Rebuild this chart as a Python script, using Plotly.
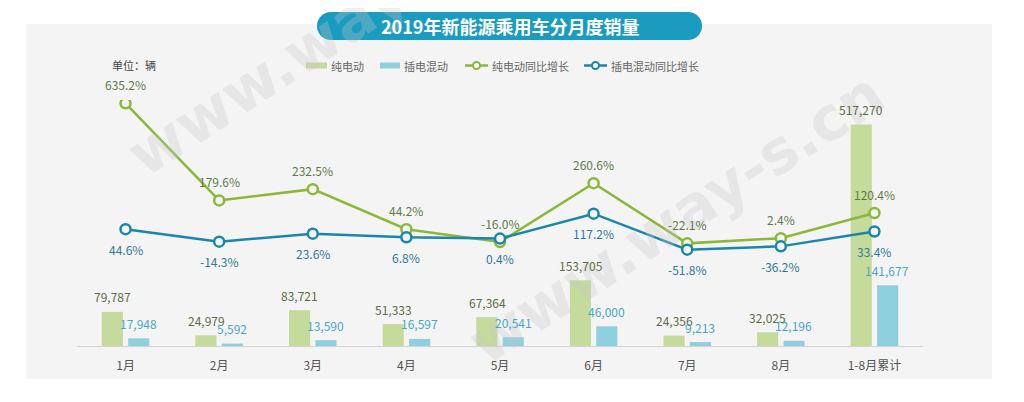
import plotly.graph_objects as go

categories = ['1月', '2月', '3月', '4月', '5月', '6月', '7月', '8月', '1-8月累计']
bev_sales = [79787, 24979, 83721, 51333, 67364, 153705, 24356, 32025, 517270]
phev_sales = [17948, 5592, 13590, 16597, 20541, 46000, 9213, 12196, 141677]
bev_yoy = [635.2, 179.6, 232.5, 44.2, -16.0, 260.6, -22.1, 2.4, 120.4]
phev_yoy = [44.6, -14.3, 23.6, 6.8, 0.4, 117.2, -51.8, -36.2, 33.4]

series_names = ['纯电动', '插电混动', '纯电动同比增长', '插电混动同比增长']
title_text = '2019年新能源乘用车分月度销量'
unit_text = '单位：辆'

# page has an 8px body margin; work in page pixels and convert
OFF = 8
W, H = 1024 - 2 * OFF, 402 - 2 * OFF
PLOT_L, PLOT_R, PLOT_T, PLOT_B = 77, 923, 100, 346   # page pixels
ML = PLOT_L - OFF
MT = PLOT_T - OFF
MR = W - (PLOT_R - OFF)
MB = H - (PLOT_B - OFF)
PW, PH = PLOT_R - PLOT_L, PLOT_B - PLOT_T

FONT = 'Noto Sans CJK SC'
GREEN_BAR = '#c4db9c'
BLUE_BAR = '#8ed0dd'
GREEN_LINE = '#8cb83a'
BLUE_LINE = '#1a86ae'
PANEL = '#f4f4f4'


def px(x):
    return (x - PLOT_L) / PW


def py(y):
    return (PLOT_B - y) / PH


fig = go.Figure()
fig.add_trace(go.Bar(x=categories, y=bev_sales, name=series_names[0],
                     marker=dict(color=GREEN_BAR, line=dict(width=0))))
fig.add_trace(go.Bar(x=categories, y=phev_sales, name=series_names[1],
                     marker=dict(color=BLUE_BAR, line=dict(width=0))))
fig.add_trace(go.Scatter(x=categories, y=bev_yoy, name=series_names[2], yaxis='y2',
                         mode='lines+markers',
                         line=dict(color=GREEN_LINE, width=2.5),
                         marker=dict(symbol='circle', size=10, color=PANEL,
                                     line=dict(color=GREEN_LINE, width=2.5))))
fig.add_trace(go.Scatter(x=categories, y=phev_yoy, name=series_names[3], yaxis='y2',
                         mode='lines+markers',
                         line=dict(color=BLUE_LINE, width=2.5),
                         marker=dict(symbol='circle', size=10, color=PANEL,
                                     line=dict(color=BLUE_LINE, width=2.5))))

ann = []
# watermarks (drawn first so labels sit on top)
for cx, cy in [(335, 30), (676, 218)]:
    ann.append(dict(x=px(cx), y=py(cy), xref='paper', yref='paper', text='<b>www.way-s.cn</b>',
                    showarrow=False, textangle=-33, xanchor='center', yanchor='middle',
                    font=dict(family='DejaVu Sans', size=60, color='rgba(200,200,200,0.3)')))
# bar value labels
for c, v in zip(categories, bev_sales):
    ann.append(dict(x=c, y=v, xref='x', yref='y', text=f'{v:,}', showarrow=False,
                    xshift=-13, yshift=15, yanchor='middle',
                    font=dict(family=FONT, size=12, color='#5d6b48')))
for c, v in zip(categories, phev_sales):
    ann.append(dict(x=c, y=v, xref='x', yref='y', text=f'{v:,}', showarrow=False,
                    xshift=13, yshift=15, yanchor='middle',
                    font=dict(family=FONT, size=12, color='#47a8c6')))
# line value labels
for c, v in zip(categories, bev_yoy):
    ann.append(dict(x=c, y=v, xref='x', yref='y2', text=f'{v:.1f}%', showarrow=False,
                    yshift=19, yanchor='middle',
                    font=dict(family=FONT, size=12, color='#5f7a4a')))
for c, v in zip(categories, phev_yoy):
    ann.append(dict(x=c, y=v, xref='x', yref='y2', text=f'{v:.1f}%', showarrow=False,
                    yshift=-20, yanchor='middle',
                    font=dict(family=FONT, size=12, color='#2f7996')))

# title
ann.append(dict(x=px(509.5), y=py(26), xref='paper', yref='paper', text=f'<b>{title_text}</b>',
                showarrow=False, xanchor='center', yanchor='middle',
                font=dict(family=FONT, size=18, color='white')))
# unit
ann.append(dict(x=px(110), y=py(65), xref='paper', yref='paper', text=unit_text,
                showarrow=False, xanchor='left', yanchor='middle',
                font=dict(family=FONT, size=11, color='#444444')))

shapes = []
# panel background
shapes.append(dict(type='rect', xref='paper', yref='paper', layer='below',
                   x0=px(26), x1=px(992), y0=py(379), y1=py(24),
                   fillcolor=PANEL, line=dict(width=0)))
# title pill
PILL = '#1a9bc0'
shapes.append(dict(type='rect', xref='paper', yref='paper', layer='below',
                   x0=px(331), x1=px(688), y0=py(40), y1=py(12),
                   fillcolor=PILL, line=dict(width=0)))
for cx in (331, 688):
    shapes.append(dict(type='circle', xref='paper', yref='paper', layer='below',
                       x0=px(cx - 14), x1=px(cx + 14), y0=py(40), y1=py(12),
                       fillcolor=PILL, line=dict(width=0)))

# manual legend
legend_items = [
    ('bar', GREEN_BAR, 306, 327, series_names[0]),
    ('bar', BLUE_BAR, 380, 400, series_names[1]),
    ('line', GREEN_LINE, 465, 488, series_names[2]),
    ('line', BLUE_LINE, 584, 607, series_names[3]),
]
LY = 65.5
for kind, col, x0, x1, name in legend_items:
    if kind == 'bar':
        shapes.append(dict(type='rect', xref='paper', yref='paper',
                           x0=px(x0), x1=px(x1), y0=py(LY + 3), y1=py(LY - 3),
                           fillcolor=col, line=dict(width=0)))
    else:
        shapes.append(dict(type='line', xref='paper', yref='paper',
                           x0=px(x0), x1=px(x1), y0=py(LY), y1=py(LY),
                           line=dict(color=col, width=2.5)))
        cx = (x0 + x1) / 2
        shapes.append(dict(type='circle', xref='paper', yref='paper',
                           x0=px(cx - 3.5), x1=px(cx + 3.5), y0=py(LY + 3.5), y1=py(LY - 3.5),
                           fillcolor='white', line=dict(color=col, width=2)))
    ann.append(dict(x=px(x1 + 2), y=py(LY), xref='paper', yref='paper', text=name,
                    showarrow=False, xanchor='left', yanchor='middle',
                    font=dict(family=FONT, size=11, color='#666666')))

fig.update_layout(
    width=W, height=H,
    margin=dict(l=ML, r=MR, t=MT, b=MB, autoexpand=False),
    paper_bgcolor='white', plot_bgcolor='rgba(0,0,0,0)',
    barmode='group', bargap=0.436, bargroupgap=0.2,
    showlegend=False,
    font=dict(family=FONT),
    xaxis=dict(showline=True, linecolor='#d2d2d2', linewidth=1, showgrid=False,
               zeroline=False, ticks='', ticklabelstandoff=9,
               tickfont=dict(family=FONT, size=12, color='#555555')),
    yaxis=dict(visible=False, range=[0, 574766], showgrid=False, zeroline=False),
    yaxis2=dict(visible=False, overlaying='y', range=[-504, 651], showgrid=False,
                zeroline=False),
    annotations=ann,
    shapes=shapes,
)

fig.write_html('out.html')
